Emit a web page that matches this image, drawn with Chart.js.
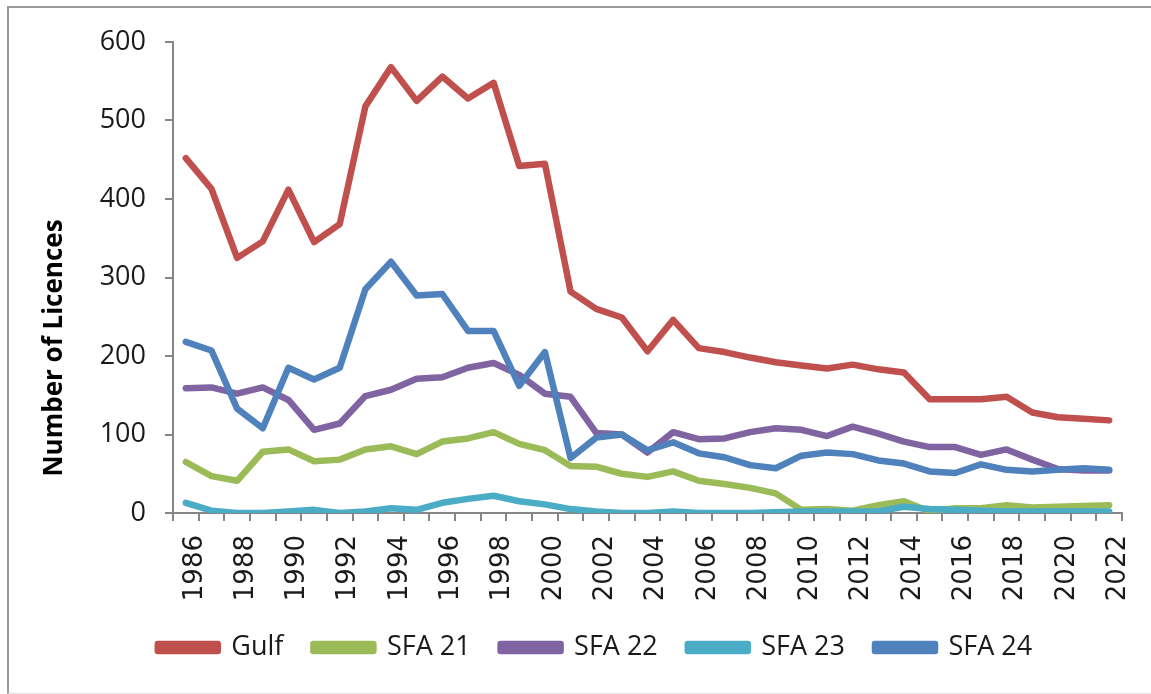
<!DOCTYPE html>
<html>
<head>
<meta charset="utf-8">
<script src="https://cdn.jsdelivr.net/npm/chart.js@4/dist/chart.umd.min.js"></script>
<style>
  html, body { margin: 0; padding: 0; background: #fff; }
  #wrap { position: relative; width: 1151px; height: 694px; overflow: hidden; }
  #frame { position: absolute; left: 7px; top: 6px; width: 1160px; height: 685px;
           border-left: 2px solid #9a9a9a; border-top: 2px solid #9a9a9a; border-bottom: 1px solid #e0e0e0; }
  #c { position: absolute; left: 0; top: 0; }
</style>
</head>
<body>
<div id="wrap">
  <div id="frame"></div>
  <canvas id="c" width="1151" height="694"></canvas>
</div>
<script>
const years = ['1986','1987','1988','1989','1990','1991','1992','1993','1994','1995','1996','1997','1998','1999','2000','2001','2002','2003','2004','2005','2006','2007','2008','2009','2010','2011','2012','2013','2014','2015','2016','2017','2018','2019','2020','2021','2022'];
const gulf  = [452,413,325,346,412,345,368,518,568,525,556,528,548,442,445,282,260,249,206,246,210,205,198,192,188,184,189,183,179,145,145,145,148,128,122,120,118];
const sfa21 = [65,47,41,78,81,66,68,81,85,75,91,95,103,88,80,60,59,50,46,53,41,37,32,25,4,5,3,10,15,2,6,6,10,7,8,9,10];
const sfa22 = [159,160,152,160,144,106,114,149,157,171,173,185,191,176,152,148,102,100,77,103,94,95,103,108,106,98,110,101,91,84,84,74,81,68,56,54,54];
const sfa23 = [13,3,0,0,2,4,0,2,6,4,13,18,22,15,11,5,2,0,0,2,0,0,0,1,2,2,2,2,8,5,4,3,2,2,2,2,2];
const sfa24 = [218,207,133,108,185,170,185,285,320,277,279,232,232,162,205,70,96,100,80,90,76,71,61,57,73,77,75,67,63,53,51,62,55,53,55,57,55];
const seriesNames = ['Gulf','SFA 21','SFA 22','SFA 23','SFA 24'];
const yTicks = [0,100,200,300,400,500,600];
const yTitle = 'Number of Licences';

const colors = ['#C0504D','#9BBB59','#8064A2','#4BACC6','#4F81BD'];
const seriesData = [gulf, sfa21, sfa22, sfa23, sfa24];

const datasets = seriesNames.map((n, i) => ({
  label: n,
  data: seriesData[i],
  borderColor: colors[i],
  backgroundColor: colors[i],
  borderWidth: 6.5,
  pointRadius: 0,
  pointHoverRadius: 0,
  tension: 0,
  borderJoinStyle: 'round',
  borderCapStyle: 'round',
  order: 5 - i
}));

const legendShift = {
  id: 'legendShift',
  afterLayout(chart) {
    if (chart.legend) { chart.legend.left += 34; chart.legend.right += 34; }
  }
};

const axisTitle = {
  id: 'axisTitle',
  afterDraw(chart) {
    const ctx = chart.ctx;
    ctx.save();
    ctx.translate(55, 348);
    ctx.rotate(-Math.PI / 2);
    ctx.font = 'bold 26px "Open Sans"';
    ctx.fillStyle = '#000';
    ctx.textAlign = 'center';
    ctx.textBaseline = 'middle';
    ctx.fillText(yTitle, 0, 0);
    ctx.restore();
  }
};

new Chart(document.getElementById('c'), {
  type: 'line',
  data: { labels: years, datasets },
  plugins: [legendShift, axisTitle],
  options: {
    responsive: false,
    animation: false,
    layout: { padding: { left: 0, right: 29, top: 42, bottom: 23 } },
    plugins: {
      tooltip: { enabled: false },
      legend: {
        position: 'bottom',
        labels: {
          boxWidth: 60,
          boxHeight: 7,
          padding: 30,
          color: '#1a1a1a',
          font: { family: 'Open Sans', size: 27 },
          sort: (a, b) => a.datasetIndex - b.datasetIndex
        }
      }
    },
    scales: {
      x: {
        type: 'category',
        offset: true,
        grid: { offset: true, drawOnChartArea: false, drawTicks: true, tickLength: 8, color: '#868686', lineWidth: 2 },
        border: { color: '#868686', width: 2 },
        ticks: {
          autoSkip: false,
          maxRotation: 90,
          minRotation: 90,
          padding: 14,
          labelOffset: 9,
          color: '#1a1a1a',
          font: { family: 'DejaVu Sans', size: 26 },
          callback: function(v, i) { return i % 2 === 0 ? this.getLabelForValue(v) : ''; }
        },
        afterFit(scale) { scale.height = 91; scale.paddingLeft = 0; scale.paddingRight = 0; }
      },
      y: {
        min: 0,
        max: 600,
        afterBuildTicks(scale) { scale.ticks = yTicks.map(v => ({ value: v })); },
        grid: { drawOnChartArea: false, drawTicks: true, tickLength: 8, color: '#868686', lineWidth: 2 },
        border: { color: '#868686', width: 2 },
        ticks: {
          padding: 19,
          color: '#1a1a1a',
          font: { family: 'Open Sans', size: 27 }
        },
        title: { display: false },
        afterFit(scale) { scale.width = 173; scale.paddingTop = 0; scale.paddingBottom = 0; }
      }
    }
  }
});
</script>
</body>
</html>
